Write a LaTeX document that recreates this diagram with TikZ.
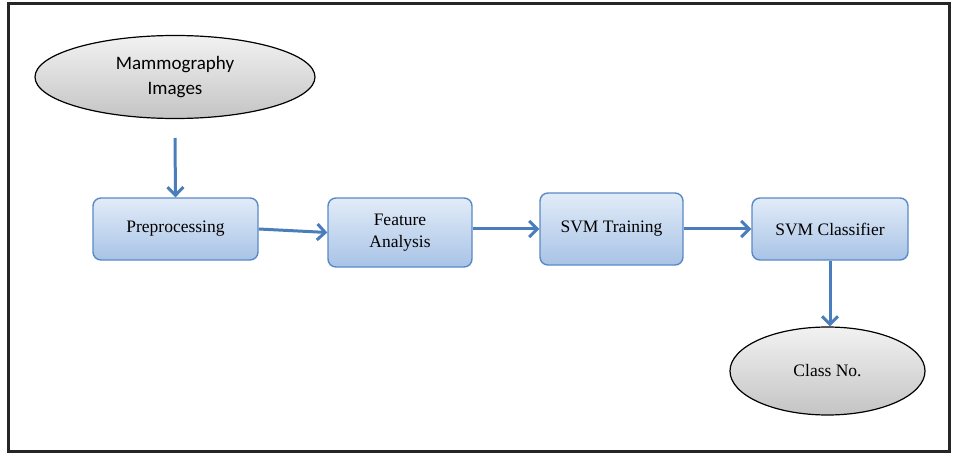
\documentclass[tikz,border=0pt]{standalone}
\usepackage{fontspec}
\setmainfont{Liberation Serif}
\newfontfamily\calib{Carlito}
\newfontfamily\timesf{Liberation Serif}
\usetikzlibrary{shapes.geometric,arrows.meta}
\definecolor{boxedge}{HTML}{5A8AC6}
\definecolor{boxtop}{HTML}{E2ECF8}
\definecolor{boxbot}{HTML}{A8C3E6}
\definecolor{arrowc}{HTML}{4A7EBB}
\definecolor{elltop}{HTML}{F2F2F2}
\definecolor{ellbot}{HTML}{C4C4C4}
\tikzset{
  stepbox/.style={draw=boxedge, line width=1.4pt, rounded corners=8pt,
    top color=boxtop, bottom color=boxbot, align=center, font=\timesf\fontsize{17.5}{22}\selectfont,
    inner sep=0pt},
  termell/.style={ellipse, draw=black, line width=1.2pt, top color=elltop, bottom color=ellbot,
    align=center, inner sep=0pt},
  flow/.style={draw=arrowc, line width=3pt, -{Straight Barb[length=8pt,width=16pt,line width=3pt]}},
}
\begin{document}
\begin{tikzpicture}[x=1pt,y=-1pt]
\useasboundingbox (0,0) rectangle (960,454);
\fill[white] (0,0) rectangle (960,454);
\draw[line width=3pt, black!85] (8,4) rectangle (949,451);
\node[termell, minimum width=280pt, minimum height=83pt, font=\calib\fontsize{19}{25}\selectfont] (mam) at (175,77) {Mammography\\Images};
\node[stepbox, minimum width=165pt, minimum height=62pt] (pre) at (175.5,229) {Preprocessing};
\node[stepbox, minimum width=144pt, minimum height=69pt] (feat) at (400,232.5) {Feature\\Analysis};
\node[stepbox, minimum width=143pt, minimum height=72pt] (svmt) at (611.5,229) {SVM Training};
\node[stepbox, minimum width=156pt, minimum height=62pt] (svmc) at (830,229) {SVM Classifier};
\node[termell, minimum width=195pt, minimum height=88pt, font=\timesf\fontsize{17.5}{22}\selectfont] (cls) at (827.5,371) {Class No.};
\coordinate (a1) at (175,138);
\draw[flow] (a1) -- (pre.north);
\draw[flow] (pre.east) -- (feat.west);
\draw[flow] (feat.east |- svmt.west) -- (svmt.west);
\draw[flow] (svmt.east) -- (svmc.west);
\draw[flow] (svmc.south) -- (svmc.south |- cls.north);
\end{tikzpicture}
\end{document}
